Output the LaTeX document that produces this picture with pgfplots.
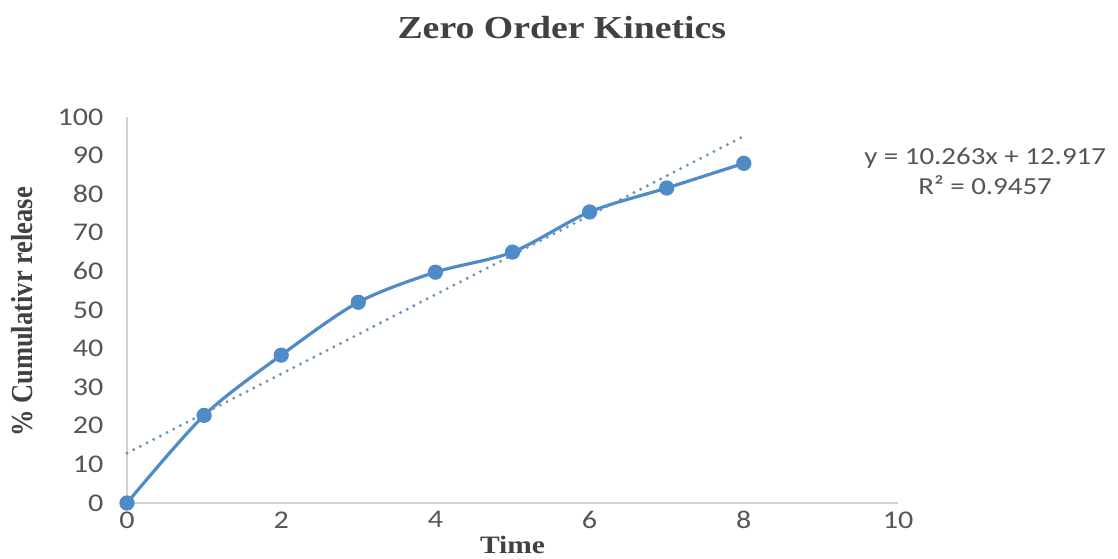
\documentclass[border=0pt]{standalone}
\usepackage{pgfplots}
\pgfplotsset{compat=1.18}
\usepackage{fontspec}
\setmainfont{Carlito}
\newfontfamily\tickfont[FakeStretch=1.18]{Carlito}
\newfontfamily\serifwide[FakeStretch=1.18]{Liberation Serif}
\newfontfamily\serifplain{Liberation Serif}
\definecolor{serblue}{RGB}{79,139,199}
\definecolor{trendcol}{RGB}{110,150,185}
\definecolor{axgray}{RGB}{210,210,210}
\definecolor{txtgray}{RGB}{85,85,85}
\definecolor{titlegray}{RGB}{65,65,65}
\begin{document}
\begin{tikzpicture}
\begin{axis}[name=ax,
  scale only axis, width=771pt, height=386pt,
  xmin=0, xmax=10, ymin=0, ymax=100,
  axis x line=bottom, axis y line=left,
  axis line style={axgray, line width=1.5pt, -},
  xtick={0,2,4,6,8,10}, ytick={0,10,...,100},
  major tick length=0pt,
  /pgf/number format/assume math mode=true,
  ticklabel style={font=\tickfont\fontsize{25.5}{28}\selectfont, text=txtgray},
  xticklabel style={yshift=-5pt},
  yticklabel style={xshift=-20pt, anchor=east},
  clip=false,
]
\addplot[serblue, line width=3.2pt, smooth, tension=0.5, mark=*, mark size=6pt, mark options={solid, fill=serblue}]
  coordinates {(0,0) (1,22.7) (2,38.3) (3,52) (4,59.8) (5,65) (6,75.4) (7,81.6) (8,88)};
\addplot[trendcol, line width=3.3pt, line cap=round, dash pattern=on 0pt off 7.5pt]
  coordinates {(0,12.917) (8,95.021)};
\node[anchor=base, text=titlegray, font=\serifwide\bfseries\fontsize{32}{36}\selectfont] at (axis cs:5.64,120.3) {Zero Order Kinetics};
\node[anchor=base, text=titlegray, font=\serifwide\bfseries\fontsize{25}{28}\selectfont] at (axis cs:5.0,-13.2) {Time};
\node[rotate=90, text=titlegray, font=\serifplain\bfseries\fontsize{26.5}{30}\selectfont] at (axis cs:-1.36,49.5) {\scalebox{1}[1.15]{\% Cumulativr release}};
\node[anchor=base, text=txtgray, font=\tickfont\fontsize{24.5}{28}\selectfont] at (axis cs:11.13,87.6) {y = 10.263x + 12.917};
\node[anchor=base, text=txtgray, font=\tickfont\fontsize{24.5}{28}\selectfont] at (axis cs:11.13,79.8) {R² = 0.9457};
\end{axis}
\pgfresetboundingbox
\path[use as bounding box] (ax.south west) ++(-127pt,-56pt) rectangle ++(1118pt,559pt);
\end{tikzpicture}
\end{document}
